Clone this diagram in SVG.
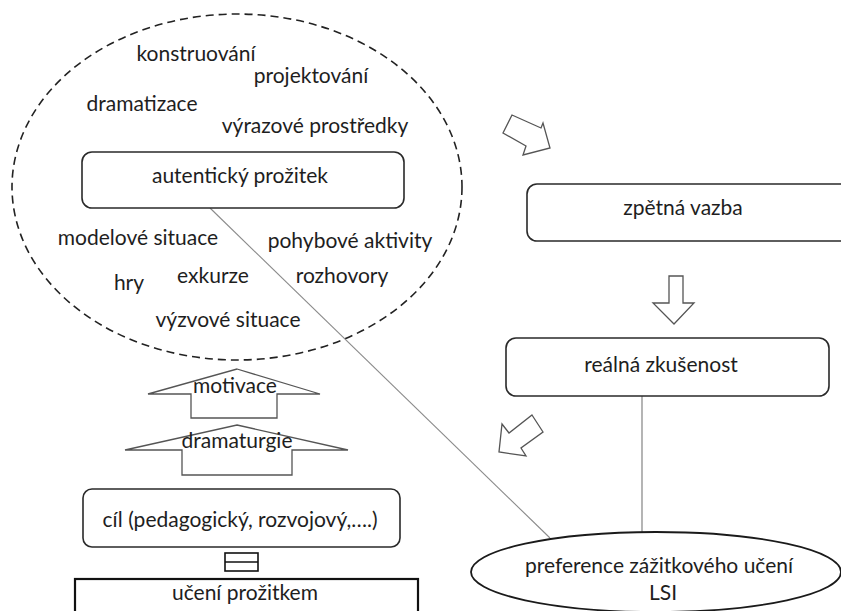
<svg xmlns="http://www.w3.org/2000/svg" width="841" height="611" viewBox="0 0 841 611">
  <style>
    text { font-family: Lato, "Open Sans", "Liberation Sans", sans-serif; font-size: 21px; fill: #1e1e1e; text-anchor: middle; }
    .box { fill: #fff; stroke: #2a2a2a; stroke-width: 1.6; }
    .frame { fill: #fff; stroke: #111; stroke-width: 2.2; }
    .hollow { fill: #fff; stroke: #555; stroke-width: 1.3; stroke-linejoin: miter; }
    .link { fill: none; stroke: #8a8a8a; stroke-width: 1.1; }
    .vlink { fill: none; stroke: #777; stroke-width: 1.1; }
  </style>
  <rect width="841" height="611" fill="#fff"/>

  <!-- cloud of activity forms around the core experience -->
  <g id="forms">
    <ellipse cx="237" cy="187" rx="225" ry="173" fill="none" stroke="#222" stroke-width="1.6" stroke-dasharray="8 5"/>
    <text x="196" y="61">konstruování</text>
    <text x="311" y="83">projektování</text>
    <text x="142" y="111">dramatizace</text>
    <text x="315" y="133">výrazové prostředky</text>
    <text x="138" y="245">modelové situace</text>
    <text x="350" y="248">pohybové aktivity</text>
    <text x="129" y="290">hry</text>
    <text x="213" y="283">exkurze</text>
    <text x="342" y="283">rozhovory</text>
    <text x="228" y="327">výzvové situace</text>
  </g>

  <!-- connectors -->
  <g id="connectors">
    <line class="link" x1="210" y1="208" x2="550" y2="538"/>
    <line class="vlink" x1="642" y1="396" x2="642" y2="533"/>
    <polygon class="hollow" points="512,115 503,133 526,146 523,155 550,148 543,123 541,128"/>
    <polygon class="hollow" points="669,276 683,276 683,303 694,303 674,324 653,303 669,303"/>
    <polygon class="hollow" points="532,415 543,432 521,448 526,456 499,452 502,424 509,433"/>
  </g>

  <g id="autenticky-prozitek">
    <rect class="box" x="82" y="152" width="322" height="56" rx="10"/>
    <text x="240" y="183">autentický prožitek</text>
  </g>

  <g id="zpetna-vazba">
    <rect class="box" x="527" y="184" width="330" height="57" rx="10"/>
    <text x="683" y="215">zpětná vazba</text>
  </g>

  <g id="realna-zkusenost">
    <rect class="box" x="506" y="338" width="323" height="58" rx="10"/>
    <text x="661" y="372">reálná zkušenost</text>
  </g>

  <g id="motivace">
    <polygon class="hollow" points="237,369 320,394 277,394 277,418 191,418 191,394 148,394"/>
    <text x="235" y="393">motivace</text>
  </g>

  <g id="dramaturgie">
    <polygon class="hollow" points="237,425 348,450 292,450 292,475 182,475 182,450 125,450"/>
    <text x="237" y="448">dramaturgie</text>
  </g>

  <g id="cil">
    <rect class="box" x="83" y="489" width="317" height="58" rx="9"/>
    <text x="240" y="527">cíl (pedagogický, rozvojový,….)</text>
  </g>

  <g id="rovna-se">
    <rect x="225" y="553" width="33" height="18" fill="#fff" stroke="#111" stroke-width="1.6"/>
    <line x1="225" y1="562" x2="258" y2="562" stroke="#111" stroke-width="1.6"/>
  </g>

  <g id="uceni-prozitkem">
    <rect class="frame" x="75" y="579" width="343" height="50"/>
    <text x="245" y="600">učení prožitkem</text>
  </g>

  <g id="preference-lsi">
    <ellipse cx="656" cy="572" rx="185" ry="40" fill="#fff" stroke="#1a1a1a" stroke-width="1.8"/>
    <text x="659" y="573">preference zážitkového učení</text>
    <text x="663" y="600">LSI</text>
  </g>
</svg>
